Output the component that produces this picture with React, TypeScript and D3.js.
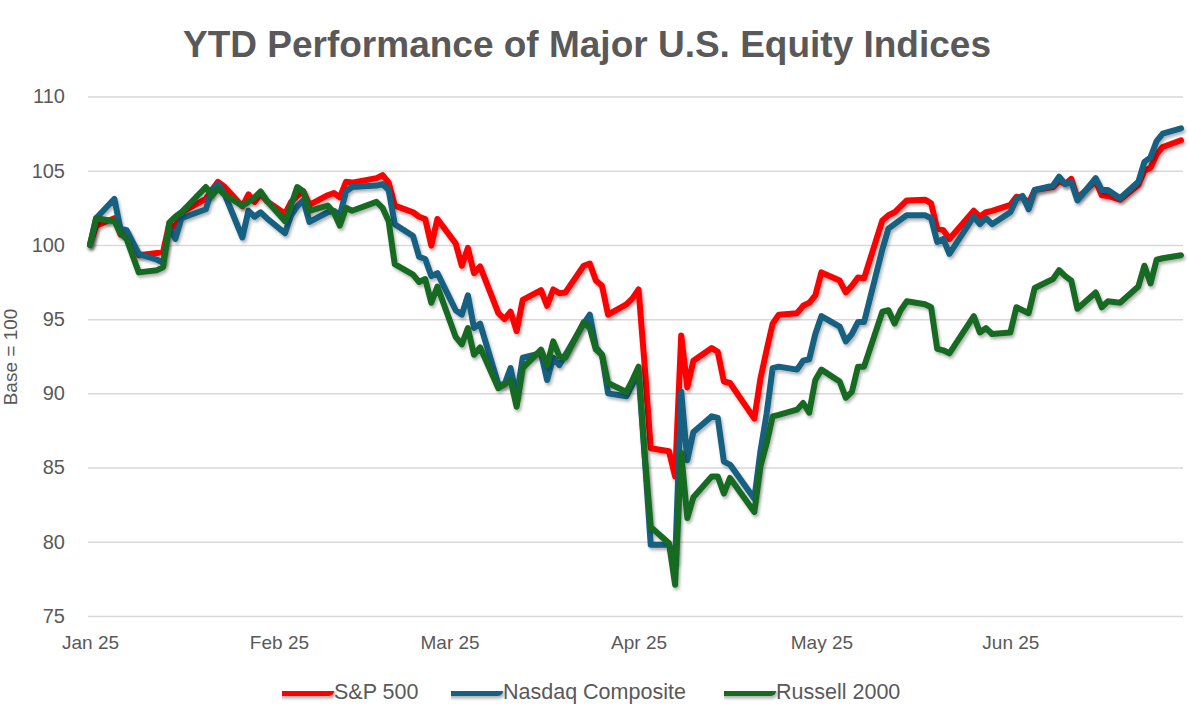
import React, { useRef, useEffect } from 'react';
import * as d3 from 'd3';

// trading days, Jan 2 = base 100
const tradingDays = [
  '2025-01-02', '2025-01-03', '2025-01-06', '2025-01-07', '2025-01-08', '2025-01-10', '2025-01-13', '2025-01-14',
  '2025-01-15', '2025-01-16', '2025-01-17', '2025-01-21', '2025-01-22', '2025-01-23', '2025-01-24', '2025-01-27',
  '2025-01-28', '2025-01-29', '2025-01-30', '2025-01-31',
  '2025-02-03', '2025-02-04', '2025-02-05', '2025-02-06', '2025-02-07', '2025-02-10', '2025-02-11', '2025-02-12',
  '2025-02-13', '2025-02-14', '2025-02-18', '2025-02-19', '2025-02-20', '2025-02-21', '2025-02-24', '2025-02-25',
  '2025-02-26', '2025-02-27', '2025-02-28',
  '2025-03-03', '2025-03-04', '2025-03-05', '2025-03-06', '2025-03-07', '2025-03-10', '2025-03-11', '2025-03-12',
  '2025-03-13', '2025-03-14', '2025-03-17', '2025-03-18', '2025-03-19', '2025-03-20', '2025-03-21', '2025-03-24',
  '2025-03-25', '2025-03-26', '2025-03-27', '2025-03-28', '2025-03-31',
  '2025-04-01', '2025-04-02', '2025-04-03', '2025-04-04', '2025-04-07', '2025-04-08', '2025-04-09', '2025-04-10',
  '2025-04-11', '2025-04-14', '2025-04-15', '2025-04-16', '2025-04-17', '2025-04-21', '2025-04-22', '2025-04-23',
  '2025-04-24', '2025-04-25', '2025-04-28', '2025-04-29', '2025-04-30',
  '2025-05-01', '2025-05-02', '2025-05-05', '2025-05-06', '2025-05-07', '2025-05-08', '2025-05-09', '2025-05-12',
  '2025-05-13', '2025-05-14', '2025-05-15', '2025-05-16', '2025-05-19', '2025-05-20', '2025-05-21', '2025-05-22',
  '2025-05-23', '2025-05-27', '2025-05-28', '2025-05-29', '2025-05-30',
  '2025-06-02', '2025-06-03', '2025-06-04', '2025-06-05', '2025-06-06', '2025-06-09', '2025-06-10', '2025-06-11',
  '2025-06-12', '2025-06-13', '2025-06-16', '2025-06-17', '2025-06-18', '2025-06-20', '2025-06-23', '2025-06-24',
  '2025-06-25', '2025-06-26', '2025-06-27', '2025-06-30',
];

const sp500 = [
  100, 101.3, 101.8, 100.7, 100.85, 99.3, 99.45, 99.55, 101.4, 101.2, 102.2, 103.1, 103.7, 104.25, 103.95, 102.6,
  103.4, 102.9, 103.45, 102.95,
  102.1, 102.9, 103.3, 103.6, 102.7, 103.35, 103.5, 103.2, 104.25, 104.2, 104.5, 104.7, 104.2, 102.65, 102.2, 101.9,
  101.75, 99.95, 101.75,
  100.1, 98.6, 99.8, 98.1, 98.55, 95.4, 95.0, 95.5, 94.2, 96.3, 96.95, 95.9, 97.0, 96.75, 96.8, 98.6,
  98.75, 97.6, 97.25, 95.3, 96.0,
  96.4, 97.0, 91.9, 86.3, 86.1, 84.4, 93.9, 90.4, 92.2, 93.05, 92.8, 90.8, 90.7, 88.3, 91.0, 92.9,
  94.7, 95.3, 95.4, 95.9, 96.1,
  96.6, 98.15, 97.6, 96.8, 97.25, 97.8, 97.75, 101.65, 102.0, 102.2, 102.6, 103.0, 103.05, 102.8, 101.1, 101.0,
  100.4, 102.3, 101.9, 102.2, 102.3,
  102.7, 103.25, 103.2, 102.8, 103.7, 103.9, 104.3, 104.1, 104.45, 103.15, 104.3, 103.35, 103.3, 103.05, 104.05, 105.0,
  105.2, 106.1, 106.6, 107.05,
];

const nasdaq = [
  100, 101.8, 103.1, 101.1, 101.0, 99.4, 99.0, 98.8, 101.2, 100.4, 101.8, 102.4, 103.7, 104.1, 103.5, 100.5,
  102.3, 101.9, 102.2, 101.8,
  100.8, 102.0, 102.6, 103.0, 101.55, 102.2, 102.3, 102.0, 103.6, 103.9, 104.0, 104.1, 103.7, 101.4, 100.6, 99.2,
  99.05, 97.9, 98.1,
  95.6, 95.3, 96.6, 94.4, 94.7, 90.6, 90.6, 91.7, 89.8, 92.4, 92.7, 90.9, 92.4, 91.9, 92.6, 94.7,
  95.3, 93.1, 92.6, 90.0, 89.8,
  90.6, 91.4, 85.8, 79.8, 79.8, 78.6, 90.1, 85.5, 87.4, 88.45, 88.35, 85.4, 85.2, 82.9, 86.1, 88.6,
  91.7, 91.8, 91.6, 92.2, 92.3,
  94.0, 95.2, 94.5, 93.5, 94.0, 94.8, 94.8, 99.7, 101.1, 101.4, 101.7, 102.0, 102.0, 101.8, 100.2, 100.4,
  99.4, 101.9, 101.4, 101.8, 101.4,
  102.2, 103.1, 103.3, 102.4, 103.7, 104.0, 104.6, 104.1, 104.25, 103.0, 104.5, 103.7, 103.7, 103.15, 104.25, 105.6,
  105.9, 107.0, 107.5, 107.85,
];

const russell = [
  100, 101.8, 101.6, 100.8, 100.4, 98.15, 98.3, 98.5, 101.5, 101.9, 102.2, 103.9, 103.3, 103.8, 103.4, 102.65,
  102.9, 103.2, 103.6, 103.0,
  101.6, 102.7, 103.9, 103.6, 102.3, 102.65, 102.2, 101.3, 102.5, 102.3, 102.9, 102.5, 101.6, 98.7, 98.0, 97.5,
  97.7, 96.1, 97.2,
  93.8, 93.3, 94.4, 92.6, 93.1, 90.35, 90.6, 90.9, 89.1, 91.7, 92.95, 91.9, 93.5, 92.5, 92.4, 94.8,
  94.4, 92.95, 92.6, 90.7, 90.1,
  90.9, 91.8, 85.9, 81.0, 79.9, 77.1, 86.0, 81.6, 83.0, 84.4, 84.4, 83.25, 84.3, 82.0, 85.1, 86.6,
  88.45, 88.55, 88.9, 89.35, 88.7,
  90.9, 91.6, 90.8, 89.7, 90.1, 91.8, 91.8, 95.5, 95.6, 94.7, 95.6, 96.2, 96.0, 95.8, 93.0, 92.9,
  92.7, 95.2, 94.1, 94.4, 94.0,
  94.1, 95.8, 95.6, 95.4, 97.1, 97.7, 98.3, 97.9, 97.6, 95.7, 96.8, 95.8, 96.2, 96.1, 97.2, 98.6,
  97.4, 99.0, 99.1, 99.3,
];

const seriesNames = ['S&P 500', 'Nasdaq Composite', 'Russell 2000'];
const seriesColors = ['#FF0000', '#156082', '#196B24'];
const yTicks = [75, 80, 85, 90, 95, 100, 105, 110];
// Excel steps months from the axis minimum (Jan 2)
const monthTicks = ['2025-01-02', '2025-02-02', '2025-03-02', '2025-04-02', '2025-05-02', '2025-06-02'];

const FONT = '"Liberation Sans", Arial, sans-serif';
const TEXT = '#595959';

export default function App() {
  const ref = useRef<SVGSVGElement>(null);

  useEffect(() => {
    if (!ref.current) return;
    const svg = d3.select(ref.current);
    svg.selectAll('*').remove();

    const left = 88;
    const right = 1183;
    const parse = d3.utcParse('%Y-%m-%d');
    const dates = tradingDays.map(d => parse(d) as Date);

    const x = d3
      .scaleUtc()
      .domain([dates[0], dates[dates.length - 1]])
      .range([90, 1181]);
    const y = d3.scaleLinear().domain([75, 110]).range([616, 96.5]);

    const defs = svg.append('defs');
    defs
      .append('filter')
      .attr('id', 'lineShadow')
      .attr('filterUnits', 'userSpaceOnUse')
      .attr('x', 0)
      .attr('y', 0)
      .attr('width', 1190)
      .attr('height', 728)
      .append('feDropShadow')
      .attr('dx', 1.5)
      .attr('dy', 2.5)
      .attr('stdDeviation', 1.6)
      .attr('flood-color', '#000')
      .attr('flood-opacity', 0.3);

    svg.append('rect').attr('width', 1190).attr('height', 728).attr('fill', '#fff');

    // title
    svg
      .append('text')
      .attr('x', 587)
      .attr('y', 57)
      .attr('text-anchor', 'middle')
      .style('font-family', FONT)
      .style('font-weight', 'bold')
      .style('font-size', '37px')
      .attr('fill', TEXT)
      .text('YTD Performance of Major U.S. Equity Indices');

    // y axis with gridlines
    const yAxis = svg
      .append('g')
      .attr('transform', `translate(${left},0)`)
      .call(
        d3
          .axisLeft(y)
          .tickValues(yTicks)
          .tickSize(-(right - left))
          .tickPadding(23)
          .tickFormat(d3.format('d'))
      );
    yAxis.select('.domain').remove();
    yAxis.selectAll('.tick line').attr('stroke', '#D9D9D9').attr('stroke-width', 1.5);
    yAxis
      .selectAll('.tick text')
      .attr('fill', TEXT)
      .style('font-family', FONT)
      .style('font-size', '20px');

    svg
      .append('text')
      .attr('transform', 'translate(17,357) rotate(-90)')
      .attr('text-anchor', 'middle')
      .style('font-family', FONT)
      .style('font-size', '19px')
      .attr('fill', TEXT)
      .text('Base = 100');

    // x axis labels
    const xAxis = svg
      .append('g')
      .attr('transform', 'translate(0,630)')
      .call(
        d3
          .axisBottom(x)
          .tickValues(monthTicks.map(d => parse(d) as Date))
          .tickSize(0)
          .tickPadding(6)
          .tickFormat(d => d3.utcFormat('%b %y')(d as Date))
      );
    xAxis.select('.domain').remove();
    xAxis
      .selectAll('.tick text')
      .attr('fill', TEXT)
      .style('font-family', FONT)
      .style('font-size', '19px');

    // lines
    const series = [sp500, nasdaq, russell];
    const line = d3
      .line<number>()
      .x((_, i) => x(dates[i]))
      .y(v => y(v));

    series.forEach((values, i) => {
      svg
        .append('path')
        .datum(values)
        .attr('d', line)
        .attr('fill', 'none')
        .attr('stroke', seriesColors[i])
        .attr('stroke-width', 6)
        .attr('stroke-linejoin', 'round')
        .attr('stroke-linecap', 'round')
        .attr('filter', 'url(#lineShadow)');
    });

    // legend
    const legendX = [282, 451, 724];
    const legend = svg.append('g').attr('transform', 'translate(0,691)');
    seriesNames.forEach((name, i) => {
      const g = legend.append('g').attr('transform', `translate(${legendX[i]},0)`);
      g.append('line')
        .attr('x1', 0)
        .attr('x2', 47)
        .attr('y1', 0)
        .attr('y2', 0)
        .attr('stroke', seriesColors[i])
        .attr('stroke-width', 10)
        .attr('stroke-linecap', 'round')
        .attr('filter', 'url(#lineShadow)');
      g.append('text')
        .attr('x', 52)
        .attr('dy', '0.35em')
        .style('font-family', FONT)
        .style('font-size', '21.5px')
        .attr('fill', TEXT)
        .text(name);
    });
  }, []);

  return (
    <svg
      ref={ref}
      width={1190}
      height={728}
      style={{ position: 'absolute', left: 0, top: 0, display: 'block' }}
    />
  );
}
